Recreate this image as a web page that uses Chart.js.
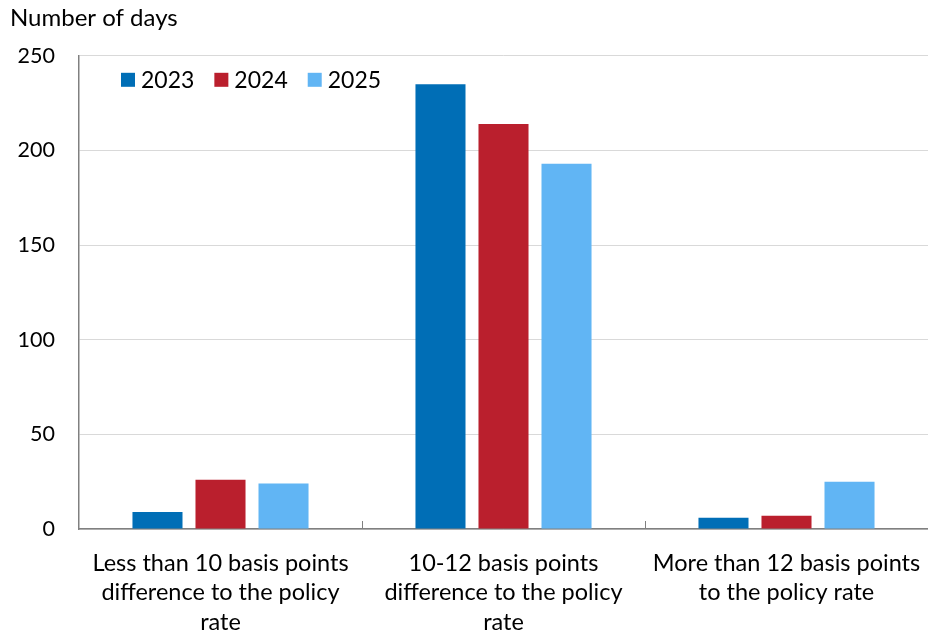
<!DOCTYPE html>
<html>
<head>
<meta charset="utf-8">
<script src="https://cdn.jsdelivr.net/npm/chart.js@4.4.1/dist/chart.umd.min.js"></script>
<style>
  html, body { margin: 0; padding: 0; background: #ffffff; }
  #wrap { width: 928px; height: 636px; }
</style>
</head>
<body>
<div id="wrap"><canvas id="c" width="928" height="636"></canvas></div>
<script>
// Days by spread between overnight rate and policy rate
const categories = [
  ['Less than 10 basis points', 'difference to the policy', 'rate'],
  ['10-12 basis points', 'difference to the policy', 'rate'],
  ['More than 12 basis points', 'to the policy rate']
];
const seriesLabels = ['2023', '2024', '2025'];
const values2023 = [9, 235, 6];
const values2024 = [26, 214, 7];
const values2025 = [24, 193, 25];
const yTicks = [0, 50, 100, 150, 200, 250];

const colors = ['#006eb6', '#ba1f2d', '#61b5f4'];
const FONT = "Lato, 'Open Sans', sans-serif";

// Legend drawn inside the plot area, top-left
const innerLegend = {
  id: 'innerLegend',
  afterDraw(chart) {
    const ctx = chart.ctx;
    const area = chart.chartArea;
    let x = area.left + 42;
    const y = area.top + 24;
    ctx.save();
    ctx.font = '23px ' + FONT;
    ctx.textBaseline = 'middle';
    chart.data.datasets.forEach(ds => {
      ctx.fillStyle = ds.backgroundColor;
      ctx.fillRect(x, y - 7, 14, 14);
      ctx.fillStyle = '#000';
      ctx.fillText(ds.label, x + 20, y + 1);
      x += 20 + ctx.measureText(ds.label).width + 20;
    });
    ctx.restore();
  }
};

// Short inward tick marks between categories on the bottom axis
const categoryTicks = {
  id: 'categoryTicks',
  afterDraw(chart) {
    const xs = chart.scales.x;
    const ctx = chart.ctx;
    const bottom = chart.chartArea.bottom;
    ctx.save();
    ctx.strokeStyle = '#808080';
    ctx.lineWidth = 1;
    for (let i = 1; i < categories.length; i++) {
      const px = Math.round((xs.getPixelForValue(i - 1) + xs.getPixelForValue(i)) / 2) + 0.5;
      ctx.beginPath();
      ctx.moveTo(px, bottom - 8);
      ctx.lineTo(px, bottom);
      ctx.stroke();
    }
    ctx.restore();
  }
};

new Chart(document.getElementById('c'), {
  type: 'bar',
  data: {
    labels: categories,
    datasets: [
      { label: seriesLabels[0], data: values2023, backgroundColor: colors[0] },
      { label: seriesLabels[1], data: values2024, backgroundColor: colors[1] },
      { label: seriesLabels[2], data: values2025, backgroundColor: colors[2] }
    ]
  },
  options: {
    responsive: false,
    animation: false,
    devicePixelRatio: 1,
    categoryPercentage: 0.668,
    barPercentage: 0.794,
    layout: { padding: { left: 10, right: 0, top: 4, bottom: 0 } },
    plugins: {
      legend: { display: false },
      tooltip: { enabled: false },
      title: {
        display: true,
        text: 'Number of days',
        align: 'start',
        color: '#000',
        font: { family: FONT, size: 24, weight: 'normal' },
        padding: { top: 0, bottom: 23 },
        fullSize: true
      }
    },
    scales: {
      x: {
        afterFit(scale) {
          scale.height = 107;
          scale.paddingLeft = 0;
          scale.paddingRight = 0;
        },
        grid: { display: false, drawTicks: false },
        border: { display: true, color: '#808080', width: 1.5 },
        ticks: {
          color: '#000',
          font: { family: FONT, size: 23.5, lineHeight: 1.27 },
          padding: 19,
          maxRotation: 0,
          autoSkip: false
        }
      },
      y: {
        min: 0,
        max: 250,
        afterBuildTicks(scale) { scale.ticks = yTicks.map(v => ({ value: v })); },
        afterFit(scale) { scale.width = 69; },
        grid: { color: '#d9d9d9', drawTicks: false, lineWidth: 1 },
        border: { display: true, color: '#808080', width: 1.5 },
        ticks: {
          color: '#000',
          font: { family: FONT, size: 21.5 },
          padding: 24
        }
      }
    }
  },
  plugins: [innerLegend, categoryTicks]
});
</script>
</body>
</html>
